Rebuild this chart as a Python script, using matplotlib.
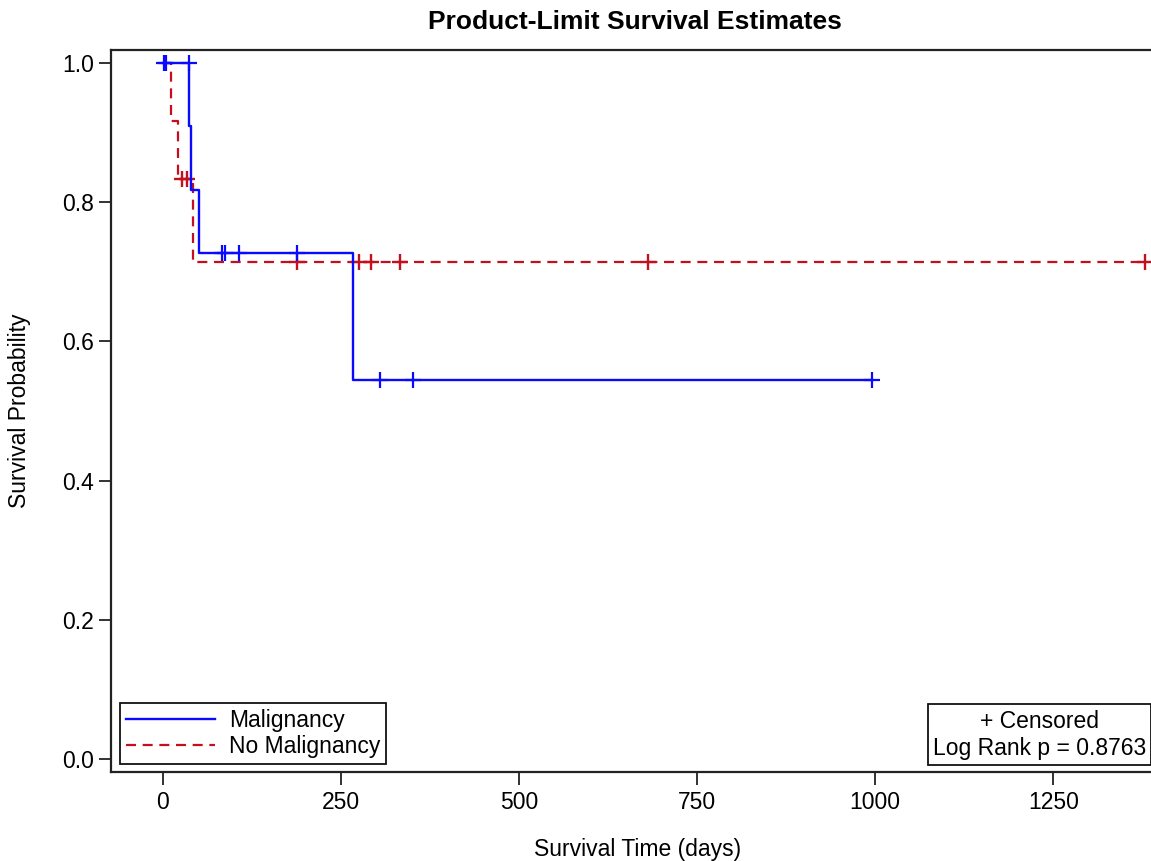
import numpy as np
import matplotlib
matplotlib.use("Agg")
import matplotlib.pyplot as plt
from matplotlib.lines import Line2D

plt.rcParams['font.family'] = ['Liberation Sans', 'DejaVu Sans']

# step curves (time in days, survival probability)
mal_times = [0, 36.5, 39, 50.5, 267, 995]
mal_surv = [1.0, 0.909, 0.818, 0.727, 0.545, 0.545]
mal_censor = [1, 4, 36, 83, 87, 107, 188, 305, 351, 995]

nomal_times = [0, 11, 21, 42, 1379]
nomal_surv = [1.0, 0.917, 0.833, 0.714, 0.714]
nomal_censor = [26, 34, 188, 275, 292, 333, 681, 1379]

x_ticks = [0, 250, 500, 750, 1000, 1250]
y_ticks = [0.0, 0.2, 0.4, 0.6, 0.8, 1.0]

blue = '#0a0aff'
red = '#c4101c'
W, H = 1151, 861


def surv_at(times, surv, t):
    i = np.searchsorted(times, t, side='right') - 1
    return np.asarray(surv)[i]


fig = plt.figure(figsize=(W / 100, H / 100), dpi=100)
ax = fig.add_axes([111 / W, (H - 772) / H, 1054 / W, 722 / H])

ax.step(nomal_times, nomal_surv, where='post', color=red, lw=1.6,
        linestyle=(0, (4.5, 3)))
ax.plot(nomal_censor, surv_at(nomal_times, nomal_surv, nomal_censor), '+',
        color=red, ms=11, mew=1.7)
ax.step(mal_times, mal_surv, where='post', color=blue, lw=1.7)
ax.plot(mal_censor, surv_at(mal_times, mal_surv, mal_censor), '+',
        color=blue, ms=11, mew=1.6)

ax.set_xlim(-73, 1407)
ax.set_ylim(-0.0187, 1.0187)
ax.set_xticks(x_ticks)
ax.set_yticks(y_ticks)
ax.set_yticklabels(['%.1f' % v for v in y_ticks])
ax.tick_params(labelsize=16.5, direction='out', length=9, width=1.3,
               color='#222222')
ax.tick_params(axis='x', pad=5)
ax.tick_params(axis='y', pad=3)
for s in ax.spines.values():
    s.set_linewidth(1.6)
    s.set_color('#222222')

ax.set_xlabel('Survival Time (days)', fontsize=16.5, labelpad=17)
ax.set_ylabel('Survival Probability', fontsize=16.5, labelpad=23)
fig.text(635 / W, 1 - 22 / H, 'Product-Limit Survival Estimates',
         fontsize=19, fontweight='bold', ha='center', va='center')

handles = [Line2D([], [], color=blue, lw=1.7),
           Line2D([], [], color=red, lw=1.6, linestyle=(0, (4.5, 3)))]
leg = ax.legend(handles, ['Malignancy', 'No Malignancy'], loc='lower left',
                bbox_to_anchor=(9 / 1054, 8 / 722), fontsize=16.5,
                frameon=True, fancybox=False, framealpha=1, borderaxespad=0,
                handlelength=3.9, handletextpad=0.6, borderpad=0.25,
                labelspacing=0.15)
leg.get_frame().set_edgecolor('#111111')
leg.get_frame().set_linewidth(1.3)

ax.text((1146 - 111) / 1054, 12 / 722, '+ Censored\nLog Rank p = 0.8763',
        transform=ax.transAxes, ha='right', va='bottom', fontsize=16.5,
        multialignment='center', linespacing=1.25,
        bbox=dict(boxstyle='square,pad=0.22', fc='white', ec='#111111',
                  lw=1.3))

fig.savefig('out.png', dpi=100)
